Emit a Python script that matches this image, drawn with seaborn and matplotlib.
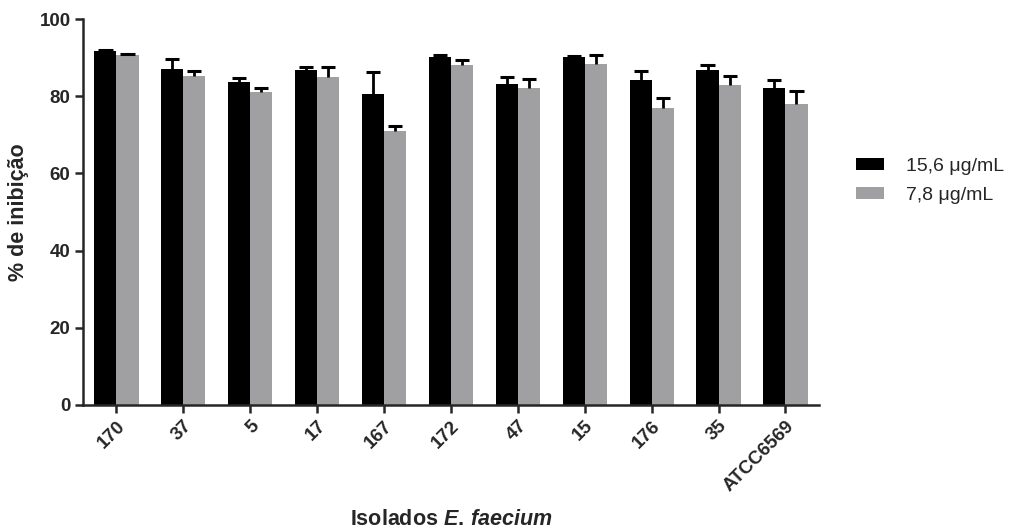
import matplotlib
matplotlib.use("Agg")
import matplotlib.pyplot as plt
import seaborn as sns
import pandas as pd
import numpy as np

isolates = ["170", "37", "5", "17", "167", "172", "47", "15", "176", "35", "ATCC6569"]
concentrations = ["15,6 \u03bcg/mL", "7,8 \u03bcg/mL"]
high_vals = [91.8, 87.2, 83.6, 86.9, 80.6, 90.1, 83.2, 90.1, 84.3, 86.9, 82.2]
high_err = [0.2, 2.6, 1.2, 0.7, 5.6, 0.7, 1.7, 0.3, 2.3, 1.3, 2.1]
low_vals = [90.8, 85.3, 81.2, 85.0, 70.9, 88.2, 82.2, 88.4, 77.1, 82.9, 78.0]
low_err = [0.2, 1.3, 1.0, 2.7, 1.4, 1.3, 2.4, 2.4, 2.5, 2.4, 3.3]
yticks = [0, 20, 40, 60, 80, 100]

sns.set_theme(style="ticks")
plt.rcParams["font.family"] = ["Liberation Sans", "DejaVu Sans"]
plt.rcParams["mathtext.fontset"] = "custom"
plt.rcParams["mathtext.rm"] = "Liberation Sans:bold"
plt.rcParams["mathtext.it"] = "Liberation Sans:bold:italic"
plt.rcParams["mathtext.bf"] = "Liberation Sans:bold"

df = pd.DataFrame({
    "isolate": isolates * 2,
    "conc": [concentrations[0]] * len(isolates) + [concentrations[1]] * len(isolates),
    "value": high_vals + low_vals,
    "err": high_err + low_err,
})

fig = plt.figure(figsize=(10.15, 5.31), dpi=100)
ax = fig.add_axes([0.0818, 0.2373, 0.725, 0.7266])

palette = {concentrations[0]: "#000000", concentrations[1]: "#a0a0a2"}
sns.barplot(data=df, x="isolate", y="value", hue="conc", order=isolates,
            hue_order=concentrations, palette=palette, errorbar=None,
            width=0.66, saturation=1, linewidth=0, ax=ax)

# upper-only error bars, placed from the seaborn bar patches
bars = [p for p in ax.patches if p.get_height() > 0][: len(df)]
errs = high_err + low_err
for p, e in zip(bars, errs):
    xc = p.get_x() + p.get_width() / 2
    top = p.get_height()
    ax.vlines(xc, top, top + e, color="black", lw=2, zorder=5)
    ax.hlines(top + e, xc - p.get_width() * 0.32, xc + p.get_width() * 0.32,
              color="black", lw=2.2, zorder=5)

ax.set_xlim(-0.5, 10.5)
ax.set_ylim(0, 100)
ax.set_yticks(yticks)
sns.despine(ax=ax)
for s in ["left", "bottom"]:
    ax.spines[s].set_linewidth(1.8)
ax.tick_params(axis="both", width=1.8, length=6, labelsize=13.5, pad=3)
for lab in ax.get_yticklabels():
    lab.set_fontweight("bold")
for lab in ax.get_xticklabels():
    lab.set_fontweight("bold")
    lab.set_rotation(45)
    lab.set_ha("right")
    lab.set_rotation_mode("anchor")

ax.set_ylabel("% de inibição", fontsize=15.5, fontweight="bold")
ax.yaxis.set_label_coords(-0.074, 0.5)
ax.set_xlabel(r"Isolados $\mathit{E.\,faecium}$", fontsize=15.5, fontweight="bold")
ax.xaxis.set_label_coords(0.5, -0.27)

leg = ax.legend(loc="upper left", bbox_to_anchor=(1.04, 0.66), frameon=False,
                fontsize=14, handlelength=1.45, handleheight=0.6, handletextpad=1.1,
                labelspacing=0.6, borderaxespad=0)

fig.savefig("out.png", dpi=100)
